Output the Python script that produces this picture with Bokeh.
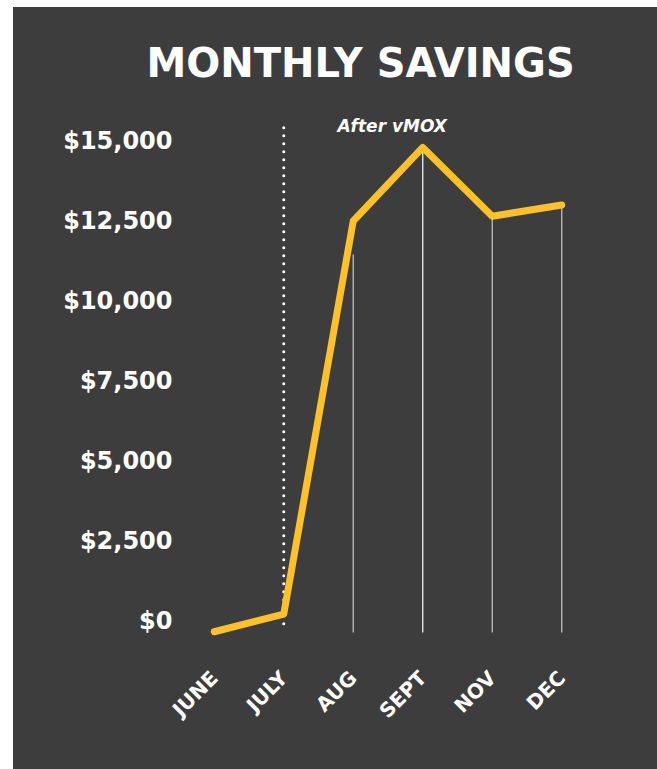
import math
from bokeh.plotting import figure
from bokeh.embed import file_html
from bokeh.resources import INLINE
from bokeh.layouts import column, row
from bokeh.models import Spacer, FactorRange, Range1d, FixedTicker, Label

# ---- data ----
months = ["JUNE", "JULY", "AUG", "SEPT", "NOV", "DEC"]
savings = [-350, 200, 12500, 14800, 12650, 13000]

ytick_values = [0, 2500, 5000, 7500, 10000, 12500, 15000]
ytick_labels = ["$0", "$2,500", "$5,000", "$7,500", "$10,000", "$12,500", "$15,000"]

drop_months = ["AUG", "SEPT", "NOV", "DEC"]
drop_tops = [11450, 14800, 12650, 13000]
drop_bottom = -375
drop_colors = ["#bdbdbd", "#f0f0f0", "#bdbdbd", "#bdbdbd"]

divider_month = "JULY"
divider_bottom = -100
divider_top = 15550
annotation_text = "After vMOX"

BG = "#3d3d3d"
GOLD = "#FFC12B"
FONT = "DejaVu Sans"

p = figure(
    x_range=FactorRange(*months, range_padding=0),
    y_range=Range1d(-1500, 15800),
    width=644, height=762,
    output_backend="svg", toolbar_location=None,
    background_fill_color=None, border_fill_color=None,
    min_border_left=166, min_border_right=61,
    min_border_top=107, min_border_bottom=101,
)
p.styles = {"background-color": BG}
p.outline_line_color = None

# title
p.title.text = "MONTHLY SAVINGS"
p.title.text_color = "white"
p.title.text_font = FONT
p.title.text_font_style = "bold"
p.title.text_font_size = "40px"
p.title.align = "left"
p.title.offset = -33
p.title.standoff = 60

# grids / axes
p.xgrid.visible = False
p.ygrid.visible = False

p.yaxis.ticker = FixedTicker(ticks=ytick_values)
p.yaxis.major_label_overrides = {v: l for v, l in zip(ytick_values, ytick_labels)}
p.yaxis.axis_line_color = None
p.yaxis.major_tick_line_color = None
p.yaxis.minor_tick_line_color = None
p.yaxis.major_label_text_color = "white"
p.yaxis.major_label_text_font = FONT
p.yaxis.major_label_text_font_style = "bold"
p.yaxis.major_label_text_font_size = "24px"
p.yaxis.major_label_standoff = 1

p.xaxis.axis_line_color = None
p.xaxis.major_tick_line_color = None
p.xaxis.minor_tick_line_color = None
p.xaxis.major_label_text_color = "white"
p.xaxis.major_label_text_font = FONT
p.xaxis.major_label_text_font_style = "bold"
p.xaxis.major_label_text_font_size = "20px"
p.xaxis.major_label_orientation = math.pi / 4
p.xaxis.major_label_standoff = 0

# drop lines
p.segment(x0=drop_months, y0=[drop_bottom] * len(drop_months),
          x1=drop_months, y1=drop_tops, line_color=drop_colors, line_width=1.3)

# dotted divider
p.segment(x0=[divider_month], y0=[divider_bottom], x1=[divider_month], y1=[divider_top],
          line_color="white", line_width=3, line_dash="0 8", line_cap="round")

# main line
p.line(months, savings, line_color=GOLD, line_width=7,
       line_join="round", line_cap="round")

p.add_layout(Label(x=3.06, y=15470, text=annotation_text, text_color="white",
                   text_font=FONT, text_font_style="bold italic", text_font_size="17px",
                   text_align="center", text_baseline="middle"))

layout = column(Spacer(height=7), row(Spacer(width=13), p), spacing=0)
open("out.html", "w").write(file_html(layout, INLINE))
